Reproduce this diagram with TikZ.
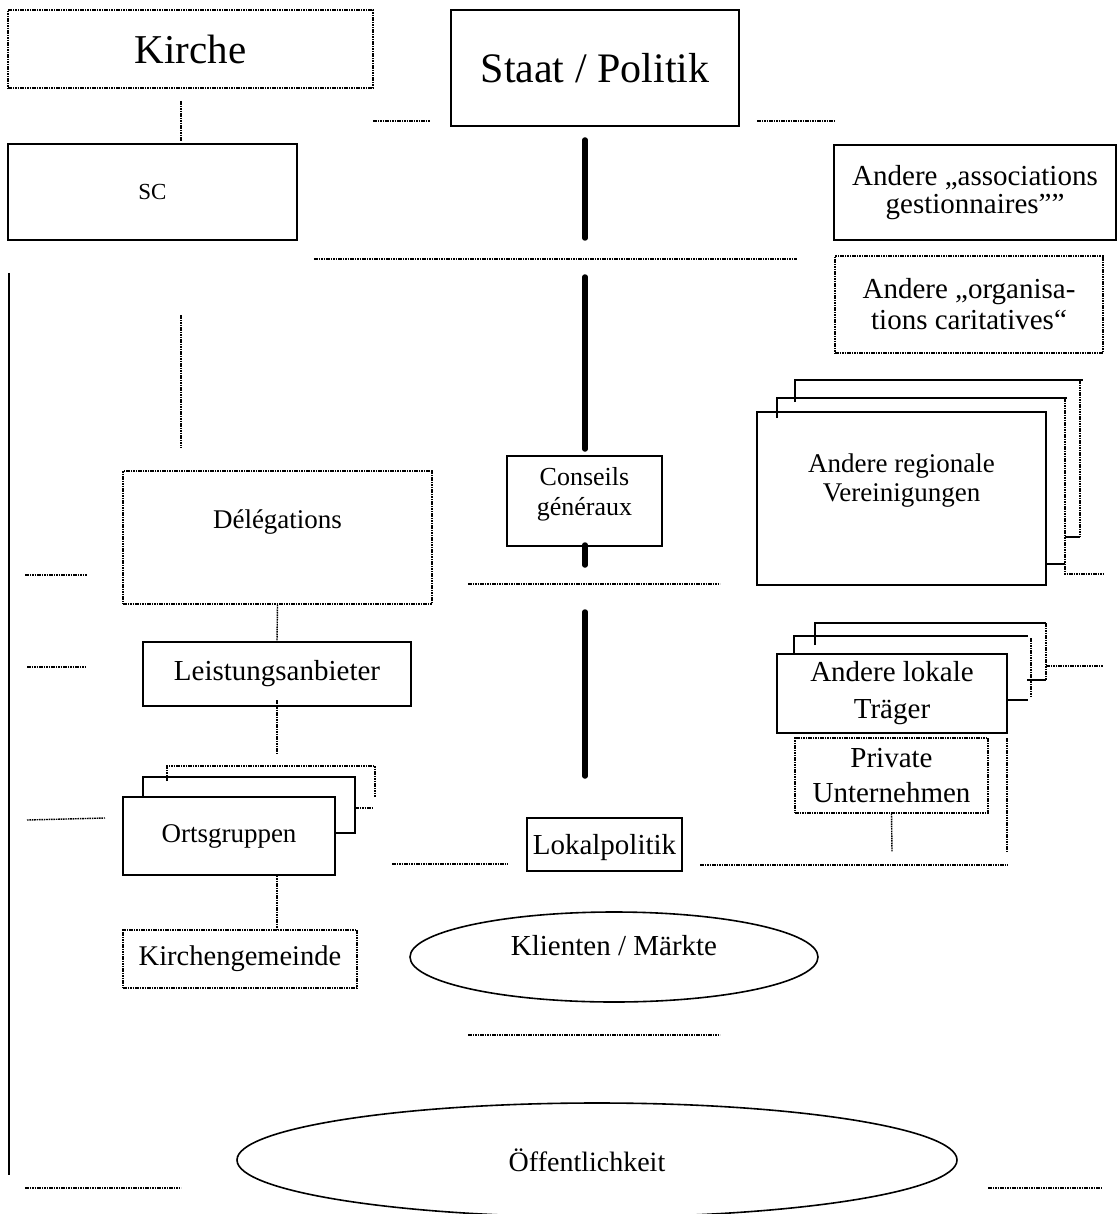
\documentclass[tikz,border=0pt]{standalone}
\usepackage{fontspec}
\setmainfont{Liberation Serif}
\usetikzlibrary{shapes.geometric}
\begin{document}
\begin{tikzpicture}[x=1pt,y=-1pt,
  solidbox/.style={draw, line width=1.6pt, inner sep=0pt, align=center},
  dotbox/.style={draw, line width=1.4pt, dash pattern=on 1.6pt off 0.8pt, inner sep=0pt, align=center},
  dline/.style={line width=1.4pt, dash pattern=on 1.6pt off 0.8pt},
  sline/.style={line width=1.6pt},
  barline/.style={line width=5.5pt, line cap=round},
  oval/.style={draw, ellipse, line width=1.6pt, inner sep=0pt}
]
\useasboundingbox (0,0) rectangle (1117,1214);

% ---------- top row ----------
\node[dotbox, minimum width=365pt, minimum height=78pt, font=\fontsize{41}{47}\selectfont] (kirche) at (190.5,49) {Kirche};
\node[solidbox, minimum width=288pt, minimum height=116pt, font=\fontsize{42}{47}\selectfont] (staat) at (595,68) {Staat / Politik};
\node[solidbox, minimum width=289pt, minimum height=96pt, font=\fontsize{23}{26}\selectfont] (sc) at (152.5,192) {SC};
\node[solidbox, minimum width=282pt, minimum height=95pt, font=\fontsize{29}{28}\selectfont] (assoc) at (975,192.5) {Andere „associations\\gestionnaires””};
\node[dotbox, minimum width=268pt, minimum height=97pt, font=\fontsize{29}{31}\selectfont] (orga) at (969,304.5) {Andere „organisa-\\tions caritatives“};

% ---------- middle ----------
\node[dotbox, minimum width=309pt, minimum height=133pt,
  label={[font=\fontsize{27}{29}\selectfont, yshift=15pt]center:Délégations}] (deleg) at (277.5,537.5) {};
\node[solidbox, minimum width=155pt, minimum height=90pt,
  label={[font=\fontsize{26}{30}\selectfont, align=center, yshift=7pt]center:{Conseils\\généraux}}] (conseils) at (584.5,501) {};
\node[solidbox, minimum width=289pt, minimum height=173pt,
  label={[font=\fontsize{27}{29}\selectfont, align=center, yshift=18pt]center:{Andere regionale\\Vereinigungen}}] (regional) at (901.5,498.5) {};
\node[solidbox, minimum width=268pt, minimum height=64pt, font=\fontsize{29}{33}\selectfont] (leist) at (277,674) {Leistungsanbieter};
\node[solidbox, minimum width=230pt, minimum height=79pt, font=\fontsize{29}{37}\selectfont] (lokale) at (892,693.5) {Andere lokale\\Träger};
\node[dotbox, minimum width=193pt, minimum height=75pt, font=\fontsize{29}{35}\selectfont] (privat) at (891.5,775.5) {Private\\Unternehmen};
\node[solidbox, minimum width=212pt, minimum height=78pt, font=\fontsize{27}{30}\selectfont] (orts) at (229,836) {Ortsgruppen};
\node[solidbox, minimum width=155pt, minimum height=53pt,
  label={[font=\fontsize{29}{33}\selectfont, yshift=-3pt]center:Lokalpolitik}] (lokalpol) at (604.5,844.5) {};
\node[dotbox, minimum width=234pt, minimum height=58pt, font=\fontsize{28.5}{32}\selectfont] (kgem) at (240,959) {Kirchengemeinde};
\node[oval, minimum width=408pt, minimum height=90pt,
  label={[font=\fontsize{29}{32}\selectfont, yshift=11pt]center:Klienten / Märkte}] (klienten) at (614,957) {};
\node[oval, minimum width=720pt, minimum height=114pt,
  label={[font=\fontsize{28}{32}\selectfont, xshift=-10pt]center:Öffentlichkeit}] (oeff) at (597,1160) {};

% ---------- stacked frames ----------
% regional
\draw[sline] (777,418) -- (777,398) -- (1067,398);
\draw[dline] (1065,398) -- (1065,574) -- (1103,574);
\draw[sline] (regional.east |- 0,564) -- (1065,564);
\draw[sline] (795,402) -- (795,380) -- (1083,380);
\draw[dline] (1080,380) -- (1080,537);
\draw[sline] (1065,537) -- (1080,537);
% lokale
\draw[sline] (794,654) -- (794,636) -- (1028,636);
\draw[dline] (1031,638) -- (1031,697);
\draw[sline] (lokale.east |- 0,700) -- (1028,700);
\draw[sline] (815,645) -- (815,623) -- (1046,623);
\draw[dline] (1046,623) -- (1046,680);
\draw[sline] (1027,680) -- (1046,680);
\draw[dline] (1046,666) -- (1103,666);
% ortsgruppen
\draw[sline] (143,797) -- (143,777) -- (355,777) -- (355,833) -- (orts.east |- 0,833);
\draw[dline] (167,781) -- (167,766) -- (375,766) -- (375,797);
\draw[dline] (355,808) -- (374,808);

% ---------- connectors ----------
\draw[dline] (181,101) -- (181,141);
\draw[dline] (373,121) -- (430,121);
\draw[dline] (757,121) -- (835,121);
\draw[dline] (314,259) -- (797,259);
\draw[dline] (181,315) -- (181,448);
\draw[dline] (deleg.south) -- (leist.north);
\draw[dline] (277,700) -- (277,755);
\draw[dline] (orts.south -| leist.south) -- (kgem.north -| leist.south);
\draw[dline] (468,584) -- (720,584);
\draw[dline] (468,1035) -- (720,1035);
\draw[dline] (392,864) -- (508,864);
\draw[dline] (700,865) -- (1008,865);
\draw[dline] (privat.south) -- (892,852);
\draw[dline] (1007,738) -- (1007,852);

% left side
\draw[line width=2.4pt] (9,273) -- (9,1175);
\draw[dline] (25,575) -- (87,575);
\draw[dline] (27,667) -- (85,667);
\draw[dline] (27,820) -- (105,818);
\draw[dline] (25,1188) -- (181,1188);
\draw[dline] (988,1188) -- (1103,1188);

% thick state line
\draw[barline] (585,140) -- (585,238);
\draw[barline] (585,277) -- (585,449);
\draw[barline] (585,545) -- (585,565);
\draw[barline] (585,612) -- (585,776);
\end{tikzpicture}
\end{document}
